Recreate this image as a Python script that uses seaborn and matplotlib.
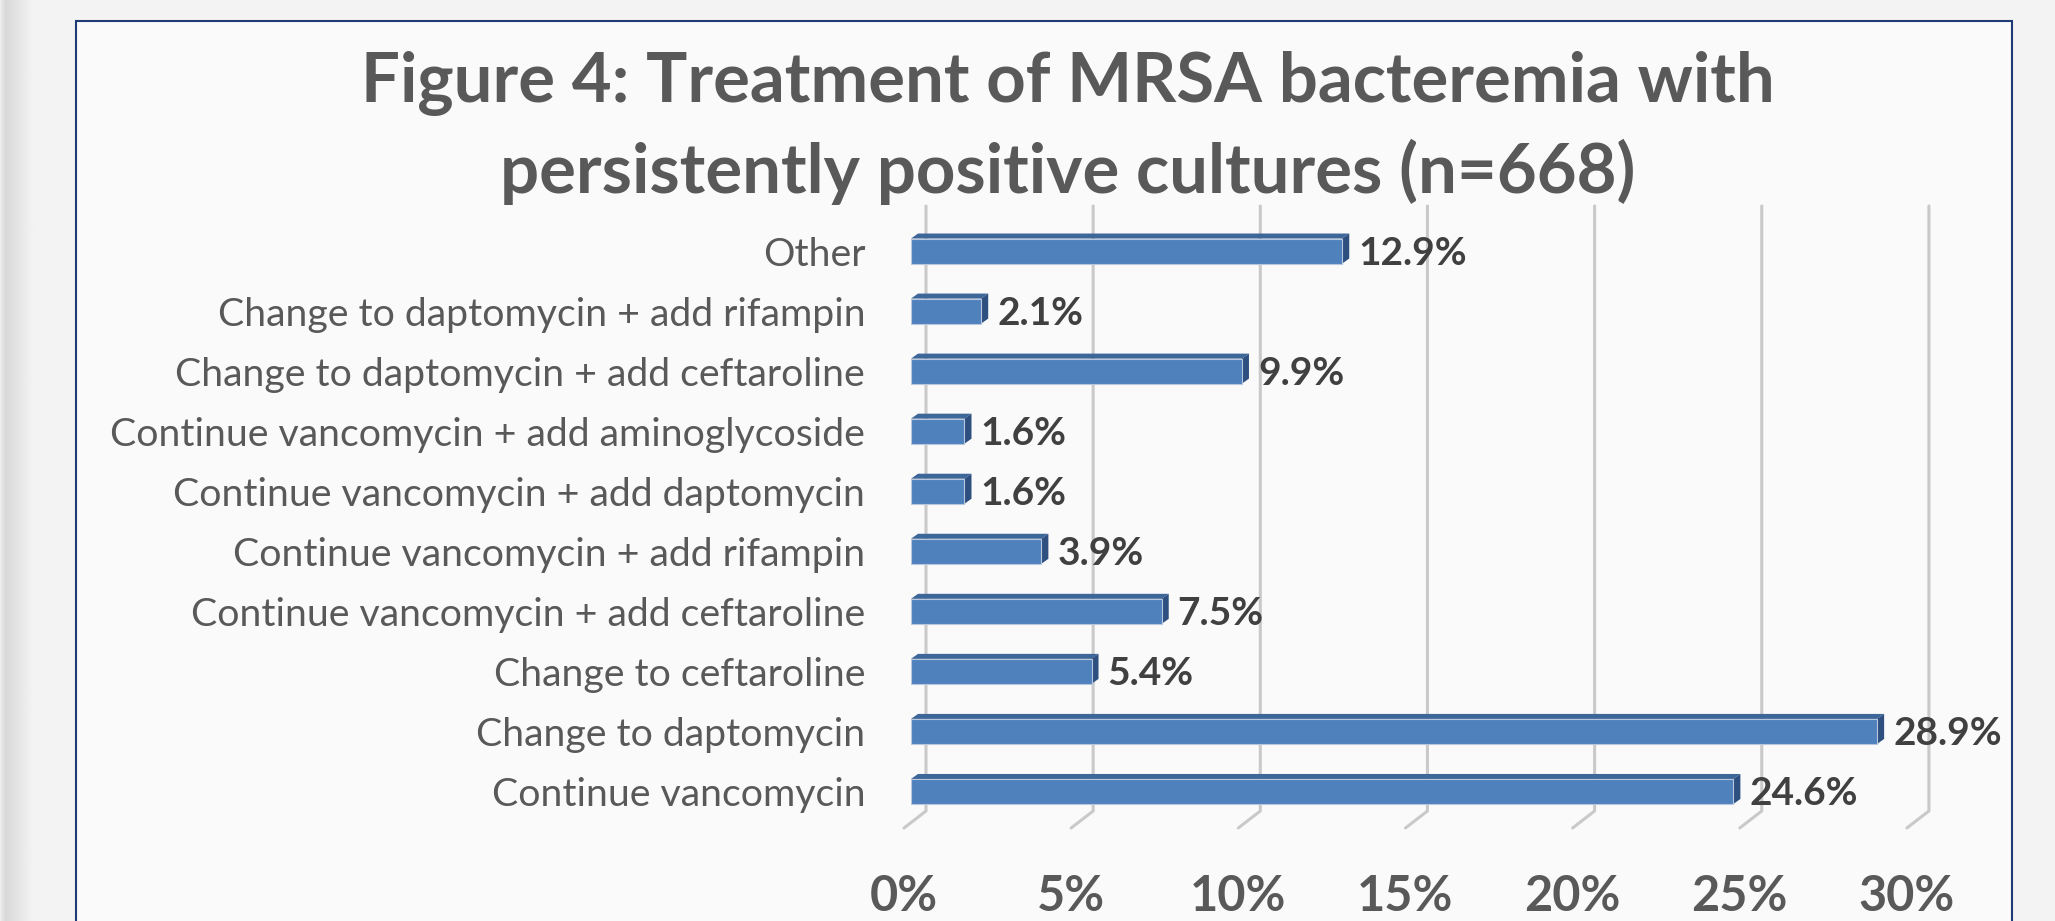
import matplotlib
matplotlib.use("Agg")
import matplotlib.pyplot as plt
import matplotlib.transforms as mtransforms
from matplotlib.lines import Line2D
from matplotlib.patches import Polygon, Rectangle
import numpy as np
import pandas as pd
import seaborn as sns

# --- Data ---
treatments = [
    "Other",
    "Change to daptomycin + add rifampin",
    "Change to daptomycin + add ceftaroline",
    "Continue vancomycin + add aminoglycoside",
    "Continue vancomycin + add daptomycin",
    "Continue vancomycin + add rifampin",
    "Continue vancomycin + add ceftaroline",
    "Change to ceftaroline",
    "Change to daptomycin",
    "Continue vancomycin",
]
percent = [12.9, 2.1, 9.9, 1.6, 1.6, 3.9, 7.5, 5.4, 28.9, 24.6]
x_ticks = [0, 5, 10, 15, 20, 25, 30]
title_lines = [
    "Figure 4: Treatment of MRSA bacteremia with",
    "persistently positive cultures (n=668)",
]

df = pd.DataFrame({"treatment": treatments, "percent": percent})

# --- Figure / layout (pixel based, 100 dpi) ---
W, H = 2055, 921
sns.set_style("white")
plt.rcParams["font.family"] = ["Lato", "DejaVu Sans"]

fig = plt.figure(figsize=(W / 100, H / 100), dpi=100)
fig.patch.set_facecolor("#f3f3f3")

# soft shadow strip on the far left
shadow = fig.add_axes([0, 0, 34 / W, 1])
grad = np.concatenate([np.linspace(0.93, 0.85, 6), np.linspace(0.85, 0.953, 28)])
shadow.imshow(np.tile(grad, (2, 1)), cmap="gray", vmin=0, vmax=1, aspect="auto",
              interpolation="bilinear")
shadow.axis("off")

# chart frame (behind the axes)
fig.patches.append(Rectangle((76 / W, -0.1), (2012 - 76) / W, 1.1 - 21 / H,
                             transform=fig.transFigure, facecolor="#fafafa",
                             edgecolor="#203b73", linewidth=1.5, zorder=-1))

bar_x0, px_per_pct = 911, 33.43
ax_top, ax_bot = 221, 821.5
ax = fig.add_axes([bar_x0 / W, (H - ax_bot) / H,
                   px_per_pct * 30 / W, (ax_bot - ax_top) / H])
ax.set_facecolor("none")

sns.barplot(data=df, x="percent", y="treatment", orient="h", color="#4f81bd",
            saturation=1, width=25 / 60, edgecolor="#b8c7dc", linewidth=0.8,
            zorder=3, ax=ax)

ax.set_xlim(0, 30)
ax.set_ylim(len(treatments) - 0.5, -0.5)
for s in ax.spines.values():
    s.set_visible(False)
ax.set_xlabel("")
ax.set_ylabel("")

# x tick labels sit on the front edge of the 3D floor
ax.set_xticks(x_ticks)
ax.set_xticklabels([f"{t}%" for t in x_ticks], fontweight="bold")
ax.tick_params(axis="x", length=0, pad=38, labelsize=35, labelcolor="#595959")
ax.tick_params(axis="y", length=0, pad=33, labelsize=28.3, labelcolor="#595959")
shift = mtransforms.ScaledTranslation(-7 / 100, 0, fig.dpi_scale_trans)
for lab in ax.get_xticklabels():
    lab.set_transform(lab.get_transform() + shift)

# --- 3D look: back-wall gridlines + floor slant, drawn in display pixels ---
ident = mtransforms.IdentityTransform()
for t in x_ticks:
    xp = ax.transData.transform((t, 0))[0]
    xs = [xp + 15, xp + 15, xp - 7]
    ys = [H - 206, H - 811, H - 828]
    ax.add_line(Line2D(xs, ys, transform=ident, color="#c9c9c9", lw=2.2,
                       clip_on=False, zorder=1, solid_capstyle="round"))

dx, dy = 7, 5
for bar in ax.patches[:len(percent)]:
    (x0, y0), (x1, y1) = ax.transData.transform(
        [(bar.get_x(), bar.get_y()), (bar.get_x() + bar.get_width(), bar.get_y() + bar.get_height())])
    y_lo, y_hi = min(y0, y1), max(y0, y1)
    top = Polygon([(x0, y_hi), (x1, y_hi), (x1 + dx, y_hi + dy), (x0 + dx, y_hi + dy)],
                  closed=True, transform=ident, facecolor="#3d6699", edgecolor="none",
                  clip_on=False, zorder=2)
    side = Polygon([(x1, y_lo), (x1, y_hi), (x1 + dx, y_hi + dy), (x1 + dx, y_lo + dy)],
                   closed=True, transform=ident, facecolor="#2e5080", edgecolor="none",
                   clip_on=False, zorder=2)
    ax.add_patch(top)
    ax.add_patch(side)

# value labels
for i, v in enumerate(percent):
    ax.annotate(f"{v}%", xy=(v, i), xytext=(11.5, -10), textcoords="offset points",
                ha="left", va="baseline", fontsize=28, fontweight="bold",
                color="#404040", annotation_clip=False)

# title
fig.text(1068 / W, 1 - 102 / H, title_lines[0], ha="center", va="baseline",
         fontsize=49.6, fontweight="bold", color="#595959")
fig.text(1068 / W, 1 - 193 / H, title_lines[1], ha="center", va="baseline",
         fontsize=49.6, fontweight="bold", color="#595959")

fig.savefig("out.png", dpi=100, facecolor=fig.get_facecolor())
